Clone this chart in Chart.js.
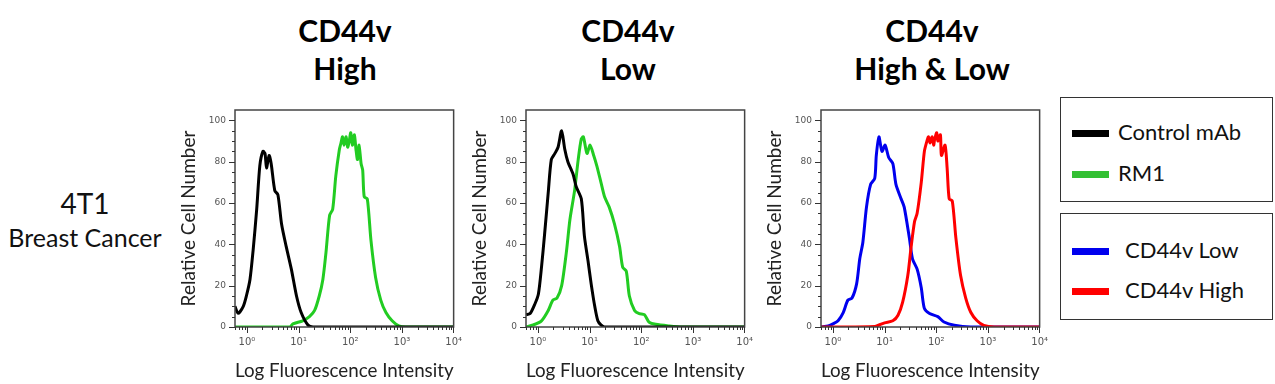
<!DOCTYPE html>
<html>
<head>
<meta charset="utf-8">
<script src="https://cdn.jsdelivr.net/npm/chart.js@4/dist/chart.umd.min.js"></script>
<style>
  html, body { margin: 0; padding: 0; background: #fff; }
  body { width: 1275px; height: 384px; position: relative; overflow: hidden; font-family: Lato, sans-serif; color: #111; }
  canvas { position: absolute; top: 100px; }
  .title { position: absolute; top: 11px; width: 300px; text-align: center; font-weight: 700; font-size: 30px; line-height: 38px; color: #000; }
  .side { position: absolute; left: 0; width: 170px; text-align: center; color: #111; }
  .box { position: absolute; left: 1060px; width: 211px; border: 1.5px solid #333; }
  .key { position: absolute; left: 1072px; width: 37px; height: 7px; }
  .lbl { position: absolute; font-size: 22px; line-height: 24px; color: #111; }
</style>
</head>
<body>
<div class="title" style="left:195px">CD44v<br>High</div>
<div class="title" style="left:478px">CD44v<br>Low</div>
<div class="title" style="left:782px">CD44v<br>High &amp; Low</div>

<div class="side" style="top:186px;font-size:28px;line-height:34px">4T1</div>
<div class="side" style="top:222px;font-size:25px;line-height:30px">Breast Cancer</div>

<canvas id="c1" width="290" height="284" style="left:175px"></canvas>
<canvas id="c2" width="290" height="284" style="left:466px"></canvas>
<canvas id="c3" width="290" height="284" style="left:761px"></canvas>

<div class="box" style="top:97px;height:103px"></div>
<div class="key" style="top:130px;background:#000"></div>
<div class="lbl" style="left:1118px;top:120px">Control mAb</div>
<div class="key" style="top:171px;background:#33c033"></div>
<div class="lbl" style="left:1118px;top:161px">RM1</div>

<div class="box" style="top:213px;height:105px"></div>
<div class="key" style="top:248px;background:#0000ee"></div>
<div class="lbl" style="left:1125px;top:238px">CD44v Low</div>
<div class="key" style="top:288px;background:#ff0000"></div>
<div class="lbl" style="left:1125px;top:278px">CD44v High</div>

<script>
// x values are in decades (log10 of fluorescence intensity)
const X_MIN = -0.23, X_MAX = 4;
const X_TICKS = [0, 1, 2, 3, 4];
const X_TICK_LABELS = ["10\u2070", "10\u00b9", "10\u00b2", "10\u00b3", "10\u2074"];
const Y_TICKS = [0, 20, 40, 60, 80, 100];

// CD44v High panel
const ctrlHighX = [-0.23, -0.17, -0.07, -0.01, 0.06, 0.12, 0.19, 0.25, 0.31, 0.35, 0.38, 0.43, 0.47, 0.54, 0.60, 0.67, 0.76, 0.86, 0.96, 1.05, 1.18, 1.28, 4];
const ctrlHighY = [10, 6.6, 10, 15, 23, 37, 57, 78, 85, 84, 77, 83, 79, 66, 64, 50, 39, 28, 15, 7, 1, 0, 0];
const rm1HighX = [-0.23, 0.83, 0.89, 1.08, 1.21, 1.31, 1.40, 1.47, 1.53, 1.60, 1.66, 1.72, 1.79, 1.82, 1.85, 1.88, 1.92, 1.95, 1.98, 2.01, 2.04, 2.08, 2.11, 2.14, 2.17, 2.21, 2.24, 2.27, 2.33, 2.40, 2.49, 2.59, 2.69, 2.81, 2.94, 3.07, 4];
const rm1HighY = [0, 0, 1.5, 3, 5, 8, 15, 23, 36, 54, 57, 73, 86, 89, 92, 88, 92, 87, 90, 94, 88, 93, 86, 81, 88, 79, 76, 63, 62, 42, 24, 13, 7, 3, 0.5, 0, 0];

// CD44v Low panel
const ctrlLowX = [-0.23, -0.15, -0.06, 0.01, 0.07, 0.13, 0.20, 0.26, 0.33, 0.39, 0.46, 0.52, 0.58, 0.68, 0.74, 0.84, 0.90, 0.97, 1.03, 1.10, 1.16, 1.22, 1.29, 4];
const ctrlLowY = [6, 6.5, 11, 16, 29, 45, 65, 81, 84, 87, 95, 86, 80, 74, 68, 62, 44, 32, 21, 10, 3, 1, 0, 0];
const rm1LowX = [-0.23, -0.09, 0.07, 0.20, 0.29, 0.37, 0.46, 0.55, 0.62, 0.71, 0.78, 0.84, 0.88, 0.95, 1.01, 1.08, 1.14, 1.22, 1.29, 1.38, 1.48, 1.58, 1.64, 1.71, 1.77, 1.87, 1.96, 2.06, 2.15, 2.28, 2.54, 2.79, 4];
const rm1LowY = [0, 1, 3, 8, 13, 14, 20, 36, 52, 66, 81, 91, 92, 84, 88, 83, 78, 70, 63, 58, 50, 39, 29, 27, 15, 8, 6.5, 6, 2.4, 1.3, 0.5, 0, 0];

// CD44v High & Low panel
const cdLowX = [-0.23, -0.09, 0.01, 0.10, 0.20, 0.29, 0.37, 0.46, 0.52, 0.58, 0.65, 0.73, 0.81, 0.84, 0.89, 0.95, 1.01, 1.08, 1.16, 1.22, 1.32, 1.38, 1.48, 1.54, 1.63, 1.71, 1.77, 1.87, 2.03, 2.15, 2.35, 2.67, 4];
const cdLowY = [0, 0.5, 1.6, 3, 7, 13, 14, 21, 33, 41, 58, 69, 72, 83, 92, 85, 88, 82, 79, 69, 62, 58, 43, 33, 28, 19, 9, 6.5, 5, 2.4, 0.8, 0, 0];
const cdHighX = [-0.23, 0.81, 1.00, 1.16, 1.26, 1.35, 1.45, 1.51, 1.58, 1.63, 1.71, 1.77, 1.82, 1.85, 1.88, 1.92, 1.95, 1.97, 2.01, 2.03, 2.08, 2.10, 2.17, 2.21, 2.25, 2.31, 2.38, 2.47, 2.57, 2.67, 2.79, 2.92, 3.12, 4];
const cdHighY = [0, 0.3, 2, 3, 5.7, 12, 25, 38, 51, 55, 70, 85, 90, 92, 89, 92, 88, 91, 94, 90, 93, 83, 88, 77, 62, 61, 43, 25, 14, 7, 3, 0.8, 0, 0];

const pts = (xs, ys) => xs.map((x, i) => ({ x: x, y: ys[i] }));

// box around the plot plus the small outward tick marks
const frameTicks = {
  id: "frameTicks",
  afterDraw(chart) {
    const { ctx, chartArea: a, scales } = chart;
    ctx.save();
    ctx.strokeStyle = "#444";
    ctx.lineWidth = 1.5;
    ctx.strokeRect(a.left, a.top, a.right - a.left, a.bottom - a.top);
    ctx.lineWidth = 1;
    ctx.strokeStyle = "#333";
    ctx.beginPath();
    for (let v = 0; v <= 100; v += 5) {
      const py = Math.round(scales.y.getPixelForValue(v)) + 0.5;
      const len = v % 20 === 0 ? 6 : 3;
      ctx.moveTo(a.left - len, py);
      ctx.lineTo(a.left, py);
    }
    for (let n = -1; n < 4; n++) {
      for (let k = 1; k < 10; k++) {
        const v = n + Math.log10(k);
        if (v < X_MIN) continue;
        const px = Math.round(scales.x.getPixelForValue(v)) + 0.5;
        const len = k === 1 ? 6 : 3;
        ctx.moveTo(px, a.bottom);
        ctx.lineTo(px, a.bottom + len);
      }
    }
    const px4 = Math.round(scales.x.getPixelForValue(4)) - 0.5;
    ctx.moveTo(px4, a.bottom);
    ctx.lineTo(px4, a.bottom + 6);
    ctx.stroke();
    ctx.restore();
  },
};

function makePanel(id, series) {
  return new Chart(document.getElementById(id), {
    type: "line",
    data: {
      datasets: series.map((s) => ({
        data: pts(s.x, s.y),
        borderColor: s.color,
        borderWidth: 3,
        pointRadius: 0,
        tension: 0.25,
        fill: false,
      })),
    },
    options: {
      responsive: false,
      animation: false,
      layout: { padding: { top: 10, right: 10, left: 0, bottom: 0 } },
      plugins: { legend: { display: false }, tooltip: { enabled: false } },
      scales: {
        x: {
          type: "linear",
          min: X_MIN,
          max: X_MAX,
          afterFit: (s) => { s.height = 57; },
          afterBuildTicks: (s) => { s.ticks = X_TICKS.map((v) => ({ value: v })); },
          grid: { drawOnChartArea: false, drawTicks: true, tickLength: 6, color: "transparent" },
          border: { display: false },
          ticks: {
            autoSkip: false, maxRotation: 0, padding: 3,
            font: { family: "DejaVu Sans", size: 10 }, color: "#555",
            callback: (v, i) => X_TICK_LABELS[i],
          },
          title: {
            display: true, text: "Log Fluorescence Intensity",
            font: { family: "Lato", size: 19 }, color: "#222",
            padding: { top: 0, bottom: 2 },
          },
        },
        y: {
          min: 0,
          max: 105,
          afterFit: (s) => { s.width = 60; },
          afterBuildTicks: (s) => { s.ticks = Y_TICKS.map((v) => ({ value: v })); },
          grid: { drawOnChartArea: false, drawTicks: true, tickLength: 6, color: "transparent" },
          border: { display: false },
          ticks: { padding: 3, font: { family: "DejaVu Sans", size: 9 }, color: "#555" },
          title: {
            display: true, text: "Relative Cell Number",
            font: { family: "Lato", size: 19 }, color: "#222",
            padding: { top: 2, bottom: 0 },
          },
        },
      },
    },
    plugins: [frameTicks],
  });
}

makePanel("c1", [
  { x: ctrlHighX, y: ctrlHighY, color: "#000000" },
  { x: rm1HighX, y: rm1HighY, color: "#22cc22" },
]);
makePanel("c2", [
  { x: ctrlLowX, y: ctrlLowY, color: "#000000" },
  { x: rm1LowX, y: rm1LowY, color: "#22cc22" },
]);
makePanel("c3", [
  { x: cdHighX, y: cdHighY, color: "#ff0000" },
  { x: cdLowX, y: cdLowY, color: "#0000ee" },
]);
</script>
</body>
</html>
